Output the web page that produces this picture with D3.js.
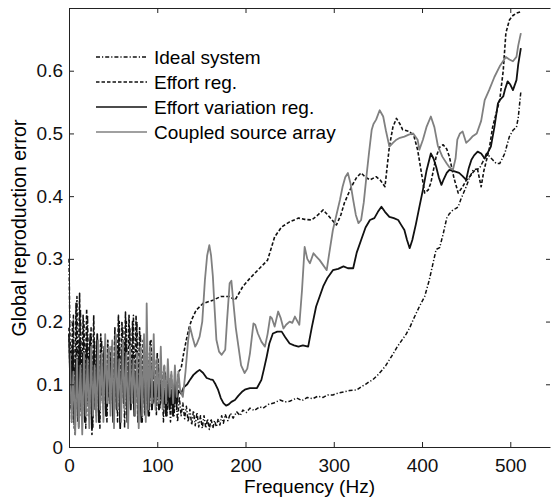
<!DOCTYPE html>
<html>
<head>
<meta charset="utf-8">
<script src="https://cdn.jsdelivr.net/npm/d3@7"></script>
<style>
  body { margin: 0; background: #fff; }
  svg { display: block; font-family: "Liberation Sans", Arial, sans-serif; }
  .axis path, .axis line { stroke: #222; stroke-width: 1; }
  .axis text { font-size: 19px; fill: #111; font-family: "Liberation Sans", Arial, sans-serif; }
</style>
</head>
<body>
<div id="chart"></div>
<script>
// ---- data: [frequency (Hz), global reproduction error] ----
const idealSystem = [
  [0,0.30],[1,0.19],[3,0.04],[5,0.21],[7,0.02],[9,0.24],[11,0.03],[13,0.22],[15,0.04],[17,0.20],
  [19,0.03],[21,0.21],[23,0.05],[25,0.19],[27,0.03],[29,0.17],[31,0.05],[33,0.16],[35,0.03],[37,0.17],
  [39,0.06],[41,0.14],[43,0.04],[45,0.16],[47,0.07],[49,0.15],[51,0.05],[53,0.18],[55,0.04],[57,0.20],
  [59,0.06],[61,0.19],[63,0.03],[65,0.20],[67,0.05],[69,0.19],[71,0.07],[73,0.21],[75,0.05],[77,0.20],
  [79,0.06],[81,0.18],[83,0.04],[85,0.16],[87,0.06],[89,0.15],[91,0.05],[93,0.17],[95,0.07],[97,0.14],
  [99,0.05],[101,0.14],[103,0.06],[105,0.12],[107,0.04],[109,0.12],[111,0.05],[113,0.11],[115,0.04],[117,0.10],
  [119,0.05],[121,0.09],[123,0.04],[125,0.08],[127,0.05],[129,0.07],[131,0.045],[133,0.065],[135,0.04],[137,0.06],
  [139,0.035],[141,0.058],[143,0.034],[145,0.055],[147,0.032],[149,0.05],[151,0.03],[153,0.05],[155,0.03],[157,0.045],
  [159,0.028],[161,0.045],[163,0.03],[165,0.042],[167,0.032],[169,0.045],[171,0.035],[173,0.05],[175,0.038],[177,0.052],
  [180,0.042],[183,0.054],[186,0.046],[190,0.056],[194,0.05],[197,0.059],[201,0.055],[205,0.062],[210,0.058],[216,0.064],
  [220,0.062],[226,0.068],[232,0.07],[239,0.075],[245,0.072],[250,0.073],[258,0.078],[264,0.074],[270,0.079],[276,0.077],
  [282,0.081],[288,0.079],[293,0.083],[299,0.083],[305,0.086],[312,0.088],[318,0.09],[326,0.091],[331,0.096],[336,0.10],
  [340,0.104],[344,0.107],[350,0.115],[355,0.123],[359,0.13],[363,0.139],[367,0.148],[372,0.16],[377,0.17],[382,0.18],
  [386,0.19],[390,0.203],[394,0.215],[397,0.224],[403,0.24],[408,0.265],[412,0.29],[416,0.315],[420,0.318],[424,0.34],
  [428,0.365],[431,0.372],[435,0.378],[438,0.38],[441,0.383],[444,0.395],[447,0.405],[450,0.415],[454,0.43],[458,0.442],
  [461,0.443],[465,0.444],[469,0.455],[473,0.468],[476,0.464],[480,0.458],[484,0.452],[488,0.452],[491,0.46],[494,0.469],
  [496,0.48],[499,0.495],[503,0.505],[507,0.51],[509,0.525],[511,0.553],[512,0.567]
];

const effortReg = [
  [0,0.19],[2,0.06],[4,0.20],[6,0.03],[8,0.23],[10,0.04],[12,0.245],[14,0.05],[16,0.21],[18,0.06],
  [20,0.22],[22,0.05],[24,0.18],[26,0.02],[28,0.21],[30,0.06],[32,0.17],[34,0.04],[36,0.18],[38,0.07],
  [40,0.15],[42,0.05],[44,0.17],[46,0.08],[48,0.16],[50,0.05],[52,0.19],[54,0.06],[56,0.21],[58,0.04],
  [60,0.20],[62,0.07],[64,0.215],[66,0.05],[68,0.21],[70,0.08],[72,0.20],[74,0.06],[76,0.21],[78,0.04],
  [80,0.19],[82,0.07],[84,0.17],[86,0.05],[88,0.16],[90,0.08],[92,0.17],[94,0.06],[96,0.15],[98,0.07],
  [100,0.15],[102,0.06],[104,0.13],[106,0.07],[108,0.13],[110,0.05],[112,0.12],[114,0.06],[116,0.115],[118,0.05],
  [120,0.11],[122,0.06],[124,0.12],[127,0.125],[130,0.15],[133,0.171],[136,0.19],[139,0.203],[144,0.218],[152,0.229],
  [163,0.234],[172,0.24],[182,0.24],[188,0.234],[197,0.256],[205,0.269],[216,0.285],[225,0.298],[233,0.335],[241,0.351],
  [250,0.359],[260,0.365],[267,0.363],[275,0.362],[282,0.37],[288,0.378],[295,0.367],[303,0.354],[308,0.37],[312,0.389],
  [320,0.415],[326,0.43],[331,0.437],[336,0.43],[341,0.426],[348,0.431],[353,0.425],[358,0.415],[363,0.479],[367,0.51],
  [371,0.524],[375,0.515],[378,0.506],[386,0.503],[391,0.495],[395,0.474],[399,0.44],[403,0.405],[407,0.41],[410,0.421],
  [416,0.463],[420,0.478],[424,0.482],[428,0.475],[431,0.463],[436,0.43],[441,0.405],[446,0.415],[450,0.425],[454,0.431],
  [459,0.44],[463,0.442],[467,0.415],[470,0.44],[476,0.474],[480,0.51],[484,0.532],[488,0.553],[492,0.60],[495,0.66],
  [499,0.681],[503,0.688],[507,0.692],[512,0.694]
];

const effortVarReg = [
  [0,0.18],[2,0.07],[4,0.16],[6,0.04],[8,0.14],[10,0.05],[12,0.17],[14,0.06],[16,0.15],[18,0.04],
  [20,0.16],[22,0.07],[24,0.17],[26,0.03],[28,0.15],[30,0.06],[32,0.18],[34,0.04],[36,0.14],[38,0.08],
  [40,0.16],[42,0.05],[44,0.13],[46,0.07],[48,0.15],[50,0.04],[52,0.14],[54,0.06],[56,0.16],[58,0.03],
  [60,0.15],[62,0.07],[64,0.17],[66,0.04],[68,0.13],[70,0.06],[72,0.14],[74,0.05],[76,0.12],[78,0.07],
  [80,0.13],[82,0.04],[84,0.12],[86,0.06],[88,0.11],[90,0.05],[92,0.12],[94,0.06],[96,0.10],[98,0.07],
  [100,0.11],[102,0.06],[104,0.10],[106,0.07],[108,0.09],[110,0.05],[112,0.10],[114,0.06],[116,0.09],[118,0.05],
  [120,0.10],[122,0.07],[124,0.09],[127,0.085],[130,0.095],[134,0.10],[137,0.107],[141,0.115],[145,0.12],[148,0.123],
  [152,0.118],[156,0.11],[160,0.108],[163,0.107],[166,0.10],[169,0.091],[172,0.078],[175,0.07],[178,0.066],[181,0.068],
  [184,0.072],[188,0.075],[192,0.082],[196,0.088],[200,0.092],[205,0.094],[213,0.094],[218,0.107],[221,0.125],[224,0.144],
  [227,0.165],[231,0.181],[236,0.184],[241,0.184],[245,0.175],[250,0.165],[255,0.162],[260,0.16],[265,0.162],[271,0.16],
  [275,0.19],[280,0.224],[284,0.24],[288,0.256],[293,0.27],[299,0.282],[305,0.284],[311,0.288],[316,0.285],[322,0.285],
  [326,0.31],[331,0.33],[336,0.35],[341,0.362],[346,0.365],[350,0.375],[354,0.383],[358,0.375],[363,0.367],[368,0.365],
  [373,0.362],[376,0.355],[380,0.346],[383,0.33],[386,0.317],[389,0.33],[393,0.355],[397,0.383],[401,0.41],[405,0.44],
  [410,0.468],[413,0.46],[416,0.447],[419,0.43],[422,0.418],[424,0.425],[428,0.437],[431,0.442],[436,0.44],[442,0.437],
  [446,0.432],[450,0.426],[453,0.445],[456,0.458],[459,0.465],[463,0.471],[467,0.468],[471,0.46],[474,0.468],[478,0.479],
  [482,0.51],[486,0.548],[488,0.553],[492,0.559],[494,0.57],[497,0.583],[500,0.578],[503,0.569],[507,0.585],[509,0.61],
  [512,0.636]
];

const coupledArray = [
  [1,0.15],[3,0.04],[5,0.12],[7,0.02],[9,0.14],[11,0.03],[13,0.13],[15,0.02],[17,0.15],[19,0.05],
  [21,0.14],[23,0.03],[25,0.16],[27,0.05],[29,0.13],[31,0.04],[33,0.17],[35,0.06],[37,0.15],[39,0.04],
  [41,0.18],[43,0.07],[45,0.16],[47,0.05],[49,0.17],[51,0.03],[53,0.18],[55,0.06],[57,0.14],[59,0.04],
  [61,0.17],[63,0.06],[65,0.15],[67,0.03],[69,0.16],[71,0.07],[73,0.14],[75,0.05],[77,0.15],[79,0.03],
  [81,0.16],[83,0.05],[85,0.18],[87,0.04],[88,0.229],[90,0.06],[92,0.16],[94,0.07],[96,0.18],[98,0.06],
  [100,0.14],[102,0.07],[104,0.16],[106,0.06],[108,0.13],[110,0.07],[112,0.14],[114,0.08],[116,0.12],[118,0.07],
  [120,0.13],[122,0.08],[124,0.12],[126,0.09],[129,0.08],[132,0.12],[135,0.17],[137,0.192],[140,0.175],[143,0.16],
  [145,0.165],[148,0.176],[151,0.20],[154,0.266],[156.5,0.305],[159,0.322],[161,0.305],[163,0.272],[165,0.22],[167,0.171],
  [170,0.152],[173,0.147],[177,0.155],[179,0.20],[182,0.261],[184,0.265],[186,0.234],[189,0.19],[192,0.16],[195,0.13],
  [199,0.118],[202,0.125],[205,0.149],[209,0.197],[211,0.195],[214,0.181],[218,0.168],[222,0.16],[225,0.18],[228,0.208],
  [230,0.205],[233,0.192],[237,0.216],[240,0.205],[243,0.189],[246,0.195],[250,0.20],[253,0.198],[256,0.208],[259,0.20],
  [261,0.195],[264,0.25],[267,0.319],[270,0.30],[273,0.293],[277,0.309],[280,0.304],[284,0.298],[288,0.29],[292,0.282],
  [295,0.31],[299,0.346],[303,0.37],[307,0.394],[310,0.415],[313,0.43],[316,0.437],[319,0.42],[322,0.394],[325,0.37],
  [328,0.357],[331,0.362],[334,0.39],[337,0.431],[340,0.47],[343,0.506],[345,0.515],[348,0.522],[352,0.537],[356,0.527],
  [359,0.505],[363,0.479],[367,0.485],[371,0.49],[375,0.493],[380,0.495],[385,0.498],[390,0.50],[395,0.49],[397,0.474],
  [401,0.49],[405,0.51],[410,0.527],[414,0.51],[418,0.48],[423,0.463],[428,0.452],[431,0.446],[435,0.442],[438,0.46],
  [440,0.49],[443,0.50],[446,0.503],[450,0.485],[454,0.49],[457,0.495],[462,0.50],[467,0.52],[471,0.553],[476,0.569],
  [482,0.59],[488,0.607],[495,0.622],[499,0.618],[503,0.615],[507,0.622],[509,0.64],[512,0.66]
];

const seriesNames = ['Ideal system', 'Effort reg.', 'Effort variation reg.', 'Coupled source array'];
const xTicks = [0, 100, 200, 300, 400, 500];
const yTicks = [0, 0.1, 0.2, 0.3, 0.4, 0.5, 0.6];

// ---- styles ----
const styles = [
  { color: '#111', width: 1.5, dash: '4,2,1.2,2' },
  { color: '#111', width: 1.6, dash: '3.5,2' },
  { color: '#111', width: 1.8, dash: null },
  { color: '#808080', width: 1.8, dash: null }
];
const series = [idealSystem, effortReg, effortVarReg, coupledArray];

const width = 552, height = 502;
const plot = { left: 69, right: 550, top: 8, bottom: 447 };

const svg = d3.select('#chart').append('svg')
  .attr('width', width)
  .attr('height', height);

const xScale = d3.scaleLinear().domain([0, 545]).range([plot.left, plot.right]);
const yScale = d3.scaleLinear().domain([0, 0.7]).range([plot.bottom, plot.top]);

/* lines */
const line = d3.line()
  .x(d => xScale(d[0]))
  .y(d => yScale(d[1]));

svg.append('g').selectAll('path')
  .data(series).enter()
  .append('path')
  .attr('d', d => line(d))
  .attr('fill', 'none')
  .attr('stroke', (d, i) => styles[i].color)
  .attr('stroke-width', (d, i) => styles[i].width)
  .attr('stroke-dasharray', (d, i) => styles[i].dash)
  .attr('stroke-linejoin', 'round');

/* axes (MATLAB-like inward ticks) */
svg.append('g')
  .attr('class', 'axis')
  .attr('transform', `translate(0, ${plot.bottom})`)
  .call(d3.axisBottom(xScale).tickValues(xTicks).tickSizeInner(-5).tickSizeOuter(0).tickPadding(12));

svg.append('g')
  .attr('class', 'axis')
  .attr('transform', `translate(${plot.left}, 0)`)
  .call(d3.axisLeft(yScale).tickValues(yTicks).tickFormat(d3.format('')).tickSizeInner(-5).tickSizeOuter(0).tickPadding(6));

svg.append('g')
  .attr('class', 'axis')
  .attr('transform', `translate(0, ${plot.top})`)
  .call(d3.axisTop(xScale).tickValues(xTicks).tickFormat('').tickSizeInner(-5).tickSizeOuter(0));

const rightAxis = svg.append('g')
  .attr('class', 'axis')
  .attr('transform', `translate(${plot.right}, 0)`)
  .call(d3.axisRight(yScale).tickValues(yTicks).tickFormat('').tickSizeInner(-4).tickSizeOuter(0));
rightAxis.select('.domain').remove();

/* axis labels */
svg.append('text')
  .attr('x', (plot.left + plot.right) / 2)
  .attr('y', 493)
  .attr('text-anchor', 'middle')
  .style('font-size', '19px')
  .text('Frequency (Hz)');

svg.append('text')
  .attr('transform', 'translate(26, 228) rotate(-90)')
  .attr('text-anchor', 'middle')
  .style('font-size', '19.5px')
  .text('Global reproduction error');

/* legend */
const legend = svg.append('g');
seriesNames.forEach((name, i) => {
  const cy = 57 + i * 25;
  legend.append('line')
    .attr('x1', 96).attr('x2', 147)
    .attr('y1', cy).attr('y2', cy)
    .attr('stroke', styles[i].color)
    .attr('stroke-width', Math.min(styles[i].width, 1.5))
    .attr('stroke-dasharray', styles[i].dash);
  legend.append('text')
    .attr('x', 154)
    .attr('y', cy + 7)
    .style('font-size', '19px')
    .text(name);
});
</script>
</body>
</html>
